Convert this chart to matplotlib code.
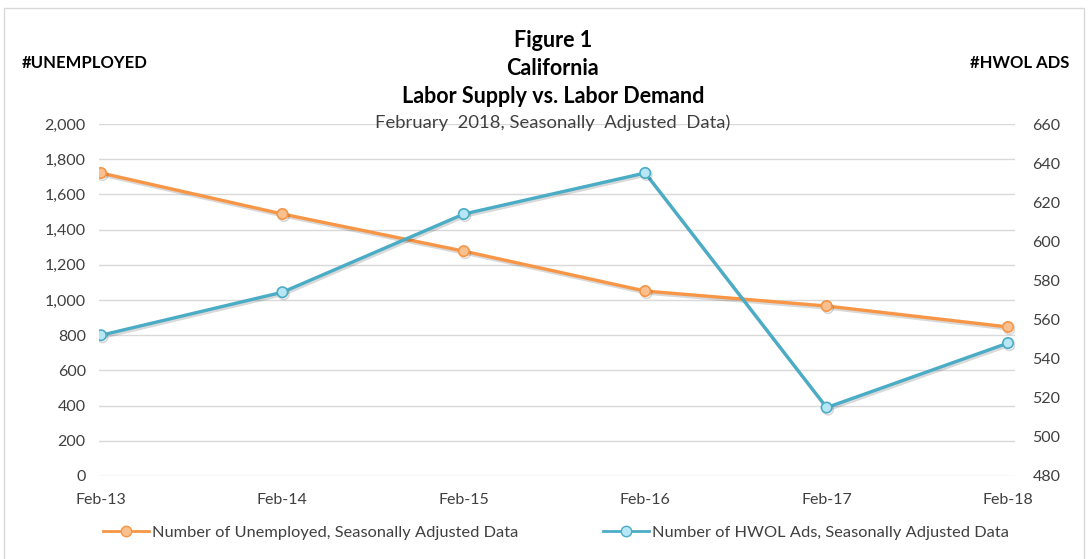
import matplotlib
matplotlib.use("Agg")
import matplotlib.pyplot as plt
import matplotlib.patheffects as pe
from matplotlib.lines import Line2D
from matplotlib.ticker import FuncFormatter, MultipleLocator

# Data
periods = ["Feb-13", "Feb-14", "Feb-15", "Feb-16", "Feb-17", "Feb-18"]
unemployed = [1722, 1489, 1278, 1051, 966, 847]
hwol_ads = [552, 574, 614, 635, 515, 548]

orange = "#F79646"
orange_face = "#FAC090"
blue = "#4BACC6"
blue_face = "#B7E6F5"
grid_c = "#D9D9D9"
text_c = "#404040"

plt.rcParams["font.family"] = ["Lato", "DejaVu Sans"]

fig = plt.figure(figsize=(10.88, 5.59), dpi=100)
ax = fig.add_axes([0.091, 0.1485, 0.842, 0.6295])
ax2 = ax.twinx()

x = list(range(len(periods)))
shadow = [pe.SimpleLineShadow(offset=(1, -1.5), shadow_color="#000000", alpha=0.15), pe.Normal()]

ax.plot(x, unemployed, color=orange, lw=2.4, marker="o", ms=7.5,
        mfc=orange_face, mec=orange, mew=1.2, zorder=3, path_effects=shadow)
ax2.plot(x, hwol_ads, color=blue, lw=2.4, marker="o", ms=7.5,
         mfc=blue_face, mec=blue, mew=1.2, zorder=3, path_effects=shadow)

ax.set_ylim(0, 2000)
ax.yaxis.set_major_locator(MultipleLocator(200))
ax.yaxis.set_major_formatter(FuncFormatter(lambda v, p: f"{int(v):,}"))
ax2.set_ylim(480, 660)
ax2.yaxis.set_major_locator(MultipleLocator(20))

ax.set_xlim(-0.011, 5.039)
ax.set_xticks(x)
ax.set_xticklabels(periods)

ax.grid(axis="y", color=grid_c, lw=1)
ax.set_axisbelow(True)
for a in (ax, ax2):
    for s in a.spines.values():
        s.set_visible(False)
    a.tick_params(length=0, labelsize=11.5, colors=text_c)
ax.tick_params(axis="y", pad=9.5)
ax2.tick_params(axis="y", pad=12.5)
ax.tick_params(axis="x", pad=12)

# Titles
fig.text(0.508, 0.928, "Figure 1", ha="center", va="center", fontsize=15.5, fontweight="bold", color="black")
fig.text(0.508, 0.878, "California", ha="center", va="center", fontsize=15.5, fontweight="bold", color="black")
fig.text(0.508, 0.828, "Labor Supply vs. Labor Demand", ha="center", va="center", fontsize=15.5, fontweight="bold", color="black")
fig.text(0.508, 0.781, "February  2018, Seasonally  Adjusted  Data)", ha="center", va="center", fontsize=13.3, color=text_c)
fig.text(0.020, 0.887, "#UNEMPLOYED", ha="left", va="center", fontsize=12, fontweight="bold", color="black")
fig.text(0.983, 0.887, "#HWOL ADS", ha="right", va="center", fontsize=12, fontweight="bold", color="black")

# Legend
handles = [
    Line2D([], [], color=orange, lw=2, marker="o", ms=7.5, mfc=orange_face, mec=orange),
    Line2D([], [], color=blue, lw=2, marker="o", ms=7.5, mfc=blue_face, mec=blue),
]
fig.legend(handles, ["Number of Unemployed, Seasonally Adjusted Data",
                     "Number of HWOL Ads, Seasonally Adjusted Data"],
           loc="center", bbox_to_anchor=(0.511, 0.047), ncol=2, frameon=False,
           fontsize=11.8, handlelength=2.8, handletextpad=0.15, columnspacing=5.2,
           labelcolor=text_c)

# Chart border
fig.patches.append(plt.Rectangle((0.004, -0.01), 0.992, 0.995, transform=fig.transFigure,
                                 fill=False, edgecolor="#D9D9D9", lw=1))

fig.savefig("out.png", dpi=100)
